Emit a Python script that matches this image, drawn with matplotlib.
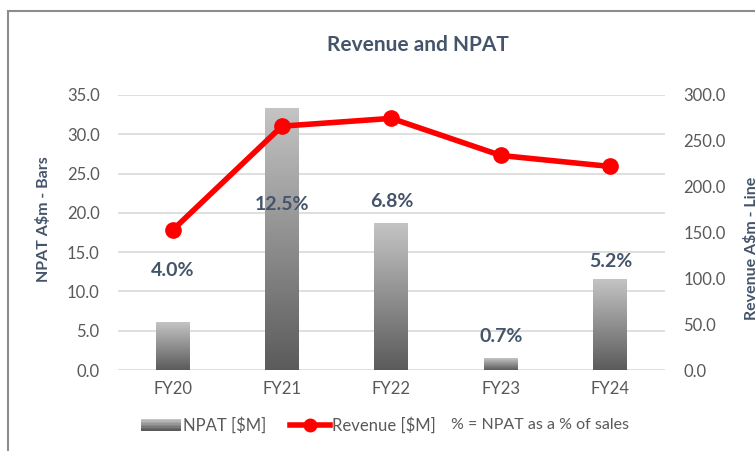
import matplotlib
matplotlib.use("Agg")
import matplotlib.pyplot as plt
import numpy as np
from matplotlib.colors import LinearSegmentedColormap
from matplotlib.patches import Rectangle, Patch
from matplotlib.lines import Line2D
from matplotlib.legend_handler import HandlerBase

plt.rcParams['font.family'] = ['Lato', 'DejaVu Sans']

# data
years = ["FY20", "FY21", "FY22", "FY23", "FY24"]
npat = [6.1, 33.3, 18.7, 1.5, 11.5]
revenue = [152.5, 266.0, 274.5, 234.0, 222.0]
pct_labels = ["4.0%", "12.5%", "6.8%", "0.7%", "5.2%"]
pct_label_y = [12.6, 21.1, 21.4, 4.3, 13.8]

slate = "#44546A"
tick_col = "#595959"
grad = LinearSegmentedColormap.from_list("g", ["#5b5b5b", "#c4c4c4"])

fig = plt.figure(figsize=(7.55, 4.51), dpi=100)
ax = fig.add_axes([0.156, 0.1796, 0.725, 0.6098])
ax2 = ax.twinx()

x = np.arange(len(years))
bw = 0.31
g = np.linspace(0, 1, 256).reshape(-1, 1)
for xi, h in zip(x, npat):
    ax.imshow(g, cmap=grad, origin="lower", aspect="auto",
              extent=[xi - bw / 2, xi + bw / 2, 0, h], zorder=2)

for xi, lab, ly in zip(x, pct_labels, pct_label_y):
    ax.text(xi, ly, lab, ha="center", va="center", fontsize=14,
            fontweight="bold", color=slate, zorder=3)

ax.set_xlim(-0.5, 4.5)
ax.set_ylim(0, 35)
ax.set_yticks(np.arange(0, 36, 5))
ax.set_yticklabels([f"{v:.1f}" for v in np.arange(0, 36, 5)])
ax.set_xticks(x)
ax.set_xticklabels(years)
ax.grid(axis="y", color="#d9d9d9", linewidth=1.2, zorder=0)
ax.set_axisbelow(True)
for s in ax.spines.values():
    s.set_visible(False)
ax.tick_params(axis="both", length=0, labelsize=12, colors=tick_col)
ax.tick_params(axis="y", pad=13)
ax.tick_params(axis="x", pad=8)

ax2.plot(x, revenue, color="#ff0000", linewidth=4, marker="o",
         markersize=11, zorder=4)
ax2.set_ylim(0, 300)
ax2.set_yticks(np.arange(0, 301, 50))
ax2.set_yticklabels([f"{v:.1f}" for v in np.arange(0, 301, 50)])
for s in ax2.spines.values():
    s.set_visible(False)
ax2.tick_params(axis="y", length=0, labelsize=12, colors=tick_col, pad=13)

fig.text(0.553, 0.90, "Revenue and NPAT", ha="center", va="center",
         fontsize=15, fontweight="bold", color=slate)
fig.text(0.058, 0.515, "NPAT A$m - Bars", rotation=90, ha="center",
         va="center", fontsize=11.5, fontweight="bold", color=slate)
fig.text(0.995, 0.45, "Revenue A$m - Line", rotation=90, ha="center",
         va="center", fontsize=11.5, fontweight="bold", color=slate)

# outer frame
fig.patches.append(Rectangle((0.0106, -0.1), 1.2, 1.0756, transform=fig.transFigure,
                             fill=False, edgecolor="#8c8c8c", linewidth=1.5))


class GradHandler(HandlerBase):
    def create_artists(self, legend, orig, xd, yd, w, h, fs, trans):
        n = 8
        arts = []
        for i in range(n):
            c = grad(1 - i / (n - 1))
            arts.append(Rectangle((xd, yd + h * (n - 1 - i) / n), w, h / n,
                                  facecolor=c, edgecolor="none", transform=trans))
        return arts


handles = [Patch(facecolor="#909090"),
           Line2D([0], [0], color="#ff0000", linewidth=4, marker="o", markersize=9)]
labels = ["NPAT [$M]", "Revenue [$M]"]
fig.legend(handles, labels, loc="center", bbox_to_anchor=(0.382, 0.057), ncol=2,
           frameon=False, fontsize=12, labelcolor=tick_col, handlelength=2.4,
           handletextpad=0.15, columnspacing=1.4,
           handler_map={Patch: GradHandler()})
fig.text(0.598, 0.057, "% = NPAT as a % of sales", ha="left", va="center",
         fontsize=11.5, color=tick_col)

fig.savefig("out.png", dpi=100)
